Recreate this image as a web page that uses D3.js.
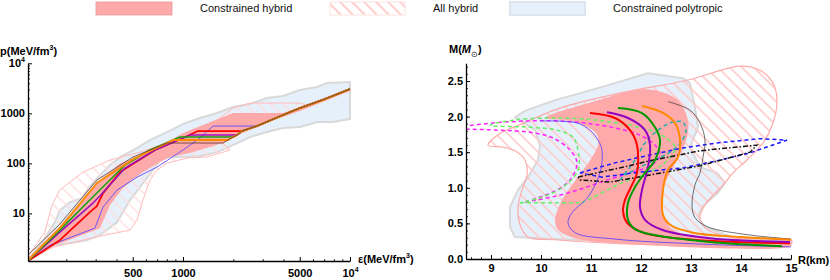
<!DOCTYPE html>
<html>
<head>
<meta charset="utf-8">
<script src="https://cdn.jsdelivr.net/npm/d3@7"></script>
<style>
  body { margin: 0; background: #fff; }
  svg text { font-family: "Liberation Sans", Arial, sans-serif; }
</style>
</head>
<body>
<svg id="chart" width="830" height="280"></svg>
<script>
// ---------- left panel data: (energy density, pressure) ----------
var polyL = [[118,1.16],[149,3.21],[171,6.7],[183,11.6],[211,16.8],[249,20.2],[277,35.2],[318,58.3],[366,92.5],[431,140],[516,193],[634,292],[802,423],[1000,611],[1264,805],[1598,1014],[1993,1337],[2518,1535],[3184,2023],[3970,2218],[5016,2924],[6346,3357],[7283,4036],[10000,4227],[10000,769],[7907,670],[6346,670],[5016,532],[3970,508],[3184,423],[2518,336],[1993,232],[1598,168],[1264,140],[1000,134],[813,134],[728,116],[661,73.5],[576,40.4],[482,18.5],[403,6.7],[318,3.68],[266,2.92],[211,2.55],[167,2.32],[139,1.68],[118,1.12]];
var allHybL = [[118,1.4],[149,4.23],[164,14.7],[183,29.3],[252,67],[366,117],[553,168],[802,255],[1000,336],[1264,508],[1598,735],[1993,1276],[2518,1607],[5016,1607],[5455,1466],[3970,925],[2773,557],[1993,336],[1737,255],[1911,185],[1393,134],[1057,128],[802,101],[699,73.6],[634,46.4],[576,18.5],[531,7.35],[482,4.64],[318,3.52],[167,2.12],[118,1.12]];
var conHybL = [[118,1.28],[183,5.57],[305,40.4],[420,101],[634,168],[1000,404],[1993,1014],[3970,1014],[5016,1337],[10000,3206],[10000,2793],[5016,1112],[2773,557],[1993,336],[1737,255],[1451,212],[1101,161],[836,134],[728,106],[553,61.1],[437,32.1],[366,14.7],[318,5.08],[289,4.43],[160,2.12],[118,1.12]];
var mainEos = [[1737,255],[1859,293],[1993,336],[2105,368],[2256,443],[2773,557],[3970,925],[5016,1276],[7085,1932],[10000,3060]];
var eosBlue   = [[118,1.12],[160,2.32],[297,5.08],[332,13.4],[403,29.3],[531,53.2],[699,84.3],[1000,185],[1264,321],[1513,557],[2773,557]];
var eosRed    = [[118,1.12],[183,2.92],[277,10.6],[305,14.0],[332,25.5],[420,67],[680,185],[1000,321],[1230,443],[2256,443]];
var eosPurple = [[118,1.12],[183,4.23],[289,16.1],[318,22.2],[450,80.5],[680,185],[1101,368],[2105,368]];
var eosGreen  = [[118,1.12],[183,4.64],[305,25.5],[450,92.6],[634,185],[959,336],[1993,336]];
var eosOrange = [[118,1.16],[183,5.08],[305,40.4],[516,128],[871,293],[1859,293]];
var eosBlack  = [[118,1.47],[183,6.11],[305,46.4],[502,134],[802,255],[1737,255]];

var eMajor = [500, 1000, 5000, 10000];
var eMinor = [200,300,400,600,700,800,900,2000,3000,4000,6000,7000,8000,9000];
var pMajor = [10, 100, 1000, 10000];
var pMinor = [2,3,4,5,6,7,8,9,20,30,40,50,60,70,80,90,200,300,400,500,600,700,800,900,2000,3000,4000,5000,6000,7000,8000,9000];

// ---------- right panel data: (radius km, mass Msun) ----------
var polyR = [[9.48,1.99],[9.68,2.08],[10.28,2.23],[11.14,2.40],[12.14,2.61],[12.84,2.54],[12.98,2.47],[13.08,2.13],[13.14,1.85],[12.98,1.57],[13.18,1.29],[13.52,1.21],[13.68,1.07],[13.54,0.93],[13.22,0.73],[13.14,0.59],[13.28,0.45],[13.82,0.31],[15.0,0.27],[15.0,0.22],[11.48,0.25],[10.28,0.28],[9.48,0.31],[9.38,0.45],[9.38,0.73],[9.54,0.97],[9.74,1.15],[9.94,1.39],[9.98,1.60],[9.88,1.81],[9.58,1.95]];
var allHybR = [[8.94,1.60],[9.22,1.78],[9.52,1.87],[10.38,2.12],[11.58,2.33],[12.92,2.51],[13.98,2.71],[14.38,2.65],[14.64,2.47],[14.72,2.23],[14.64,1.91],[14.44,1.63],[14.12,1.39],[13.84,1.21],[13.68,1.07],[13.28,0.76],[13.18,0.59],[13.28,0.44],[13.88,0.29],[15.0,0.27],[15.0,0.21],[11.48,0.22],[10.28,0.27],[9.74,0.31],[9.58,0.48],[9.54,0.73],[9.62,0.97],[9.72,1.18],[9.68,1.39],[9.48,1.52],[9.24,1.57]];
var conHybR = [[10.08,1.98],[11.14,2.23],[11.88,2.37],[12.28,2.37],[12.74,2.23],[12.94,1.95],[12.92,1.71],[12.78,1.46],[12.58,1.21],[12.44,0.97],[12.48,0.55],[12.74,0.37],[13.78,0.27],[15.0,0.22],[15.0,0.18],[11.48,0.22],[10.68,0.29],[10.34,0.41],[10.28,0.55],[10.42,0.83],[10.74,1.15],[11.02,1.43],[11.14,1.60],[11.12,1.74],[10.94,1.85],[10.58,1.94]];

var mrRed    = [[10.98,2.05],[11.48,1.98],[11.78,1.81],[11.92,1.60],[11.92,1.21],[11.82,1.04],[11.68,0.83],[11.64,0.69],[11.72,0.51],[12.04,0.37],[13.04,0.27],[14.98,0.22]];
var mrPurple = [[11.32,2.06],[11.74,1.98],[12.08,1.81],[12.18,1.60],[12.14,1.29],[12.02,0.97],[11.98,0.73],[12.08,0.55],[12.42,0.41],[13.38,0.29],[14.98,0.24]];
var mrGreen  = [[11.54,2.12],[12.02,2.05],[12.28,1.85],[12.38,1.67],[12.28,1.39],[12.08,1.21],[11.88,1.01],[11.74,0.79],[11.74,0.55],[11.88,0.42],[12.24,0.34],[13.38,0.24],[14.82,0.18]];
var mrOrange = [[12.02,2.15],[12.42,2.06],[12.68,1.91],[12.78,1.67],[12.74,1.43],[12.54,1.25],[12.44,0.97],[12.44,0.62],[12.58,0.48],[13.04,0.37],[13.98,0.31],[15.0,0.27]];
var mrBlack  = [[12.54,2.21],[12.98,2.09],[13.18,1.91],[13.28,1.67],[13.24,1.43],[13.18,1.21],[13.08,1.04],[13.02,0.76],[13.08,0.58],[13.34,0.45],[14.14,0.34],[15.0,0.28]];
var mrBlue   = [[9.98,1.94],[10.72,1.91],[10.98,1.81],[11.14,1.67],[11.22,1.53],[11.18,1.21],[10.94,0.87],[10.62,0.65],[10.54,0.51],[10.68,0.37],[11.48,0.28],[13.18,0.21],[15.0,0.17]];

var dashMagenta = [[9.68,0.80],[10.28,0.88],[10.78,0.98],[11.28,1.10],[11.78,1.21],[12.22,1.32],[12.38,1.46],[12.28,1.60],[11.98,1.74],[11.48,1.84],[10.88,1.91],[10.32,1.94],[9.78,1.94],[9.04,1.91],[8.3,1.84],[9.12,1.81],[9.78,1.78],[10.24,1.70],[10.58,1.53],[10.72,1.35],[10.58,1.11],[10.32,0.97],[9.98,0.87],[9.68,0.80]];
var dashGreen = [[10.82,0.79],[11.22,0.93],[11.62,1.07],[12.14,1.21],[12.54,1.39],[12.68,1.57],[12.50,1.70],[12.18,1.81],[11.44,1.92],[10.78,1.97],[10.12,1.98],[9.44,1.95],[8.98,1.88],[9.78,1.85],[10.32,1.81],[10.64,1.71],[10.74,1.53],[10.74,1.25],[10.44,1.01],[9.98,0.86],[9.58,0.79]];
var dashGreenFlat = [[9.58,0.79],[10.82,0.79]];
var dashCyan = [[11.58,1.11],[11.88,1.39],[12.08,1.63],[12.34,1.81],[12.62,1.92],[12.84,1.92],[12.90,1.81],[12.80,1.64],[12.58,1.50],[12.28,1.39],[11.98,1.29],[11.68,1.18]];
var dashBlue = [[10.78,1.21],[11.48,1.35],[12.18,1.46],[12.84,1.56],[13.52,1.63],[14.38,1.69],[14.92,1.67],[14.18,1.49],[13.52,1.38],[12.84,1.28],[11.98,1.22],[11.22,1.15],[10.78,1.21]];
var dashBlack = [[10.74,1.15],[11.58,1.28],[12.18,1.38],[13.18,1.52],[14.32,1.60],[14.18,1.50],[13.18,1.31],[12.18,1.18],[11.38,1.08],[10.78,1.11],[10.74,1.15]];

var rMajor = [9,10,11,12,13,14,15];
var mMajor = [0,0.5,1,1.5,2,2.5];
var legendLabels = ["Constrained hybrid", "All hybrid", "Constrained polytropic"];

var svg = d3.select("#chart");
var defs = svg.append("defs");

// hatch pattern for "All hybrid"
function addHatch(id, w, col, sw){
  var p = defs.append("pattern").attr("id", id)
      .attr("patternUnits","userSpaceOnUse").attr("width", w).attr("height", w)
      .attr("patternTransform","rotate(-45)");
  p.append("line").attr("x1",1).attr("y1",0).attr("x2",1).attr("y2",w)
      .attr("stroke", col).attr("stroke-width", sw);
}
addHatch("hatch", 8.5, "#ffcaca", 1.6);
addHatch("hatchL", 9, "#ffdcdc", 1.3);
addHatch("hatchLeg", 8.5, "#ffcccc", 2.2);

defs.append("clipPath").attr("id","clipL").append("rect").attr("x",28).attr("y",55).attr("width",323).attr("height",206);
defs.append("clipPath").attr("id","clipR").append("rect").attr("x",466).attr("y",55).attr("width",330).attr("height",204);

//Scales
var xE = d3.scaleLog().domain([118, 10000]).range([28, 350]);
var yP = d3.scaleLog().domain([1.12, 10000]).range([261, 63.3]);
var xR = d3.scaleLinear().domain([8.5, 15]).range([466, 791]);
var yM = d3.scaleLinear().domain([0, 2.75]).range([259, 63.2]);

var lineL = d3.line().x(function(d){ return xE(d[0]); }).y(function(d){ return yP(d[1]); });
var lineR = d3.line().x(function(d){ return xR(d[0]); }).y(function(d){ return yM(d[1]); }).curve(d3.curveCatmullRom.alpha(0.5));
var lineRlin = d3.line().x(function(d){ return xR(d[0]); }).y(function(d){ return yM(d[1]); });
var areaRsmooth = d3.line().x(function(d){ return xR(d[0]); }).y(function(d){ return yM(d[1]); }).curve(d3.curveCatmullRomClosed.alpha(0.5));

/////// left panel
var gL = svg.append("g").attr("clip-path","url(#clipL)");

gL.append("path").attr("d", lineL(polyL) + "Z")
  .attr("fill","#e6f0fb").attr("stroke","#d9d9d9").attr("stroke-width",2).attr("stroke-linejoin","round");
gL.append("path").attr("d", lineL(allHybL) + "Z")
  .attr("fill","url(#hatchL)").attr("stroke","#ffbcbc").attr("stroke-width",1);
gL.append("path").attr("d", lineL(conHybL) + "Z")
  .attr("fill","#ffaaaa").attr("stroke","none");

function withMain(arr){
  var last = arr[arr.length-1][0];
  return arr.concat(mainEos.filter(function(d){ return d[0] > last; }));
}
var eosLines = [
  {d: eosBlue,   c:"#5a4cff", w:0.9},
  {d: eosRed,    c:"#ff0000", w:1.8},
  {d: eosPurple, c:"#9a10b8", w:1.5},
  {d: eosGreen,  c:"#12a012", w:1.5},
  {d: eosOrange, c:"#ff8c00", w:1.9},
  {d: eosBlack,  c:"#5b3a2e", w:0.8}
];
eosLines.forEach(function(e){
  gL.append("path").attr("d", lineL(withMain(e.d)))
    .attr("fill","none").attr("stroke", e.c).attr("stroke-width", e.w).attr("stroke-linejoin","round");
});

/////// right panel
var gR = svg.append("g").attr("clip-path","url(#clipR)");

gR.append("path").attr("d", lineRlin(polyR) + "Z")
  .attr("fill","#e6f0fb").attr("stroke","#d9d9d9").attr("stroke-width",2).attr("stroke-linejoin","round");
gR.append("path").attr("d", areaRsmooth(allHybR))
  .attr("fill","url(#hatch)").attr("stroke","#ffaaaa").attr("stroke-width",1.2);
gR.append("path").attr("d", areaRsmooth(conHybR))
  .attr("fill","#ffaaaa").attr("stroke","none");

var dashed = [
  {d: dashMagenta,   c:"#ff22ff", dash:"4,3", smooth:true},
  {d: dashGreen,     c:"#66ee66", dash:"4,3", smooth:true},
  {d: dashGreenFlat, c:"#66ee66", dash:"4,3", smooth:false},
  {d: dashCyan,      c:"#22aaaa", dash:"4,3", smooth:true},
  {d: dashBlue,      c:"#1a1aff", dash:"4,3", smooth:false},
  {d: dashBlack,     c:"#111111", dash:"5,2,1.5,2", smooth:false}
];
dashed.forEach(function(e){
  gR.append("path").attr("d", (e.smooth ? lineR : lineRlin)(e.d))
    .attr("fill","none").attr("stroke", e.c).attr("stroke-width",1.5).attr("stroke-dasharray", e.dash);
});

var mrLines = [
  {d: mrBlue,   c:"#4b3cff", w:0.8},
  {d: mrBlack,  c:"#333333", w:0.7},
  {d: mrRed,    c:"#ff0000", w:2},
  {d: mrPurple, c:"#9400c0", w:2},
  {d: mrGreen,  c:"#009a00", w:2},
  {d: mrOrange, c:"#ff8800", w:2}
];
mrLines.forEach(function(e){
  gR.append("path").attr("d", lineR(e.d))
    .attr("fill","none").attr("stroke", e.c).attr("stroke-width", e.w);
});

/////// axes
function styleAxis(g){
  g.attr("font-size", 11).attr("font-weight","bold").attr("font-family","Liberation Sans, Arial, sans-serif");
  g.select(".domain").attr("stroke","#000").attr("stroke-width",1.3);
  g.selectAll(".tick line").attr("stroke","#000").attr("stroke-width",1);
  g.selectAll(".tick text").attr("fill","#000");
}
function minorAxis(g){
  g.select(".domain").remove();
  g.selectAll(".tick line").attr("stroke","#000").attr("stroke-width",0.8);
}

// left y axis
var axYL = svg.append("g").attr("transform","translate(28,0)")
  .call(d3.axisLeft(yP).tickValues(pMajor).tickSize(-4).tickSizeOuter(0).tickPadding(3)
        .tickFormat(function(d){ return d === 10000 ? "" : d; }));
styleAxis(axYL);
axYL.selectAll(".tick").filter(function(d){ return d === 10000; }).select("text")
  .text("10").append("tspan").attr("dy",-5).attr("font-size",7).text("4");
svg.append("g").attr("transform","translate(28,0)")
  .call(d3.axisLeft(yP).tickValues(pMinor).tickSize(-2).tickSizeOuter(0).tickFormat("")).call(minorAxis);

// left x axis
var axXL = svg.append("g").attr("transform","translate(0,261)")
  .call(d3.axisBottom(xE).tickValues(eMajor).tickSize(-4).tickSizeOuter(0).tickPadding(8)
        .tickFormat(function(d){ return d === 10000 ? "" : d; }));
styleAxis(axXL);
axXL.selectAll(".tick").filter(function(d){ return d === 10000; }).select("text")
  .text("10").append("tspan").attr("dy",-5).attr("font-size",7).text("4");
svg.append("g").attr("transform","translate(0,261)")
  .call(d3.axisBottom(xE).tickValues(eMinor).tickSize(-2).tickSizeOuter(0).tickFormat("")).call(minorAxis);

// right y axis
var axYR = svg.append("g").attr("transform","translate(466,0)")
  .call(d3.axisLeft(yM).tickValues(mMajor).tickSize(-4).tickSizeOuter(0).tickPadding(3)
        .tickFormat(d3.format(".1f")));
styleAxis(axYR);
svg.append("g").attr("transform","translate(466,0)")
  .call(d3.axisLeft(yM).tickValues(d3.range(0.1, 2.75, 0.1)).tickSize(-2).tickSizeOuter(0).tickFormat("")).call(minorAxis);

// right x axis
var axXR = svg.append("g").attr("transform","translate(0,259)")
  .call(d3.axisBottom(xR).tickValues(rMajor).tickSize(-4).tickSizeOuter(0).tickPadding(5).tickFormat(d3.format("d")));
styleAxis(axXR);
svg.append("g").attr("transform","translate(0,259)")
  .call(d3.axisBottom(xR).tickValues(d3.range(8.6, 15, 0.2)).tickSize(-2).tickSizeOuter(0).tickFormat("")).call(minorAxis);

// axis titles
var t1 = svg.append("text").attr("x",0).attr("y",55).attr("font-size",11).attr("font-weight","bold").text("p(MeV/fm");
t1.append("tspan").attr("dy",-5).attr("font-size",7).text("3");
t1.append("tspan").attr("dy",5).text(")");
var t2 = svg.append("text").attr("x",358).attr("y",263).attr("font-size",11).attr("font-weight","bold").text("\u03b5(MeV/fm");
t2.append("tspan").attr("dy",-5).attr("font-size",7).text("3");
t2.append("tspan").attr("dy",5).text(")");
var t3 = svg.append("text").attr("x",449).attr("y",53).attr("font-size",11).attr("font-weight","bold").text("M(");
t3.append("tspan").attr("font-style","italic").text("M");
t3.append("tspan").attr("dy",4).attr("font-size",8).attr("font-weight","normal").text("\u2299");
t3.append("tspan").attr("dy",-4).text(")");
svg.append("text").attr("x",798).attr("y",264).attr("font-size",11).attr("font-weight","bold").text("R(km)");

// legend
svg.append("rect").attr("x",96).attr("y",2).attr("width",76).attr("height",13)
  .attr("fill","#ffaaaa").attr("stroke","#e89898").attr("stroke-width",0.8);
svg.append("rect").attr("x",330).attr("y",2).attr("width",75).attr("height",13)
  .attr("fill","url(#hatchLeg)").attr("stroke","#ffe2e2").attr("stroke-width",1);
svg.append("rect").attr("x",510).attr("y",2).attr("width",75).attr("height",13)
  .attr("fill","#e6f0fb").attr("stroke","#dde5ef").attr("stroke-width",2);
[200, 433, 613].forEach(function(x, i){
  svg.append("text").attr("x", x).attr("y", 12).attr("font-size", 11).attr("fill","#111").text(legendLabels[i]);
});
</script>
</body>
</html>
